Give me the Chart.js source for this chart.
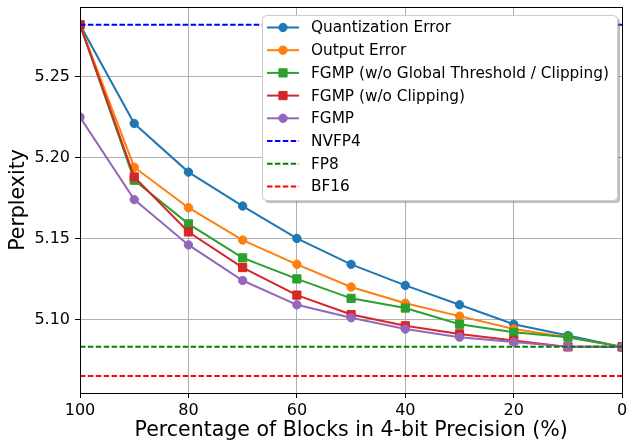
<!DOCTYPE html>
<html>
<head>
<meta charset="utf-8">
<script src="https://cdn.jsdelivr.net/npm/chart.js@4/dist/chart.umd.min.js"></script>
<style>
  html, body { margin: 0; padding: 0; background: #fff; }
  #chart { display: block; }
</style>
</head>
<body>
<canvas id="chart" width="629" height="444"></canvas>
<script>
// percentage of blocks kept in 4-bit precision
const xValues = [100, 90, 80, 70, 60, 50, 40, 30, 20, 10, 0];

const quantError   = [5.282, 5.221, 5.191, 5.170, 5.150, 5.134, 5.121, 5.109, 5.097, 5.090, 5.083];
const outputError  = [5.282, 5.194, 5.169, 5.149, 5.134, 5.120, 5.110, 5.102, 5.094, 5.089, 5.083];
const fgmpNoGlobal = [5.282, 5.186, 5.159, 5.138, 5.125, 5.113, 5.107, 5.097, 5.092, 5.089, 5.083];
const fgmpNoClip   = [5.282, 5.188, 5.154, 5.132, 5.115, 5.103, 5.096, 5.091, 5.087, 5.083, 5.083];
const fgmpFull     = [5.225, 5.174, 5.146, 5.124, 5.109, 5.101, 5.094, 5.089, 5.086, 5.083, 5.083];

const nvfp4 = 5.282;
const fp8 = 5.083;
const bf16 = 5.065;

const xTicks = [0, 20, 40, 60, 80, 100];
const yTicks = [5.10, 5.15, 5.20, 5.25];

const FONT = "'DejaVu Sans', sans-serif";

function series(label, ys, color, style) {
  return {
    label: label,
    data: xValues.map((x, i) => ({ x: x, y: ys[i] })),
    borderColor: color,
    backgroundColor: color,
    pointBackgroundColor: color,
    pointBorderColor: color,
    borderWidth: 2,
    pointStyle: style,
    pointRadius: style === 'rect' ? 5.8 : 4.2,
    pointBorderWidth: 1,
    tension: 0,
    _legendStyle: style
  };
}

function hline(label, y, color) {
  return {
    label: label,
    data: [{ x: 100, y: y }, { x: 0, y: y }],
    borderColor: color,
    backgroundColor: color,
    borderWidth: 2,
    borderDash: [5.5, 2.4],
    pointRadius: 0,
    _legendStyle: 'dash'
  };
}

const datasets = [
  series('Quantization Error', quantError, '#1f77b4', 'circle'),
  series('Output Error', outputError, '#ff7f0e', 'circle'),
  series('FGMP (w/o Global Threshold / Clipping)', fgmpNoGlobal, '#2ca02c', 'rect'),
  series('FGMP (w/o Clipping)', fgmpNoClip, '#d62728', 'rect'),
  series('FGMP', fgmpFull, '#9467bd', 'circle'),
  hline('NVFP4', nvfp4, '#0000ff'),
  hline('FP8', fp8, '#008000'),
  hline('BF16', bf16, '#ff0000')
];
// later series on top, like matplotlib
datasets.forEach((d, i) => { d.order = datasets.length - i; });

// frame around plot area (spines) + x tick labels (so "0" may run off the edge)
const framePlugin = {
  id: 'frame',
  afterDatasetsDraw(chart) {
    const a = chart.chartArea, ctx = chart.ctx;
    ctx.save();
    ctx.strokeStyle = '#000';
    ctx.lineWidth = 1;
    ctx.strokeRect(Math.round(a.left) + 0.5, Math.round(a.top) + 0.5,
                   Math.round(a.right - a.left), Math.round(a.bottom - a.top));
    const xs = chart.scales.x;
    ctx.fillStyle = '#000';
    ctx.font = '16px ' + FONT;
    ctx.textAlign = 'center';
    ctx.textBaseline = 'middle';
    xTicks.forEach(v => {
      ctx.fillText(String(v), xs.getPixelForValue(v), a.bottom + 18);
    });
    ctx.restore();
  }
};

// legend inside the axes, upper right, with shadow
const legendPlugin = {
  id: 'boxLegend',
  afterDraw(chart) {
    const ctx = chart.ctx;
    const bx = 262, by = 15, bw = 355, bh = 185;
    ctx.save();
    ctx.fillStyle = 'rgba(128,128,128,0.5)';
    roundRect(ctx, bx + 3, by + 3, bw, bh, 4); ctx.fill();
    ctx.fillStyle = '#fff';
    ctx.strokeStyle = '#cccccc';
    ctx.lineWidth = 1;
    roundRect(ctx, bx + 0.5, by + 0.5, bw, bh, 4); ctx.fill(); ctx.stroke();

    ctx.font = '15.3px ' + FONT;
    ctx.textBaseline = 'middle';
    chart.data.datasets.forEach((d, i) => {
      const cy = 27.5 + i * 22.7;
      ctx.strokeStyle = d.borderColor;
      ctx.lineWidth = 2;
      ctx.beginPath();
      if (d._legendStyle === 'dash') ctx.setLineDash(d.borderDash);
      else ctx.setLineDash([]);
      ctx.moveTo(267, cy); ctx.lineTo(299, cy);
      ctx.stroke();
      ctx.setLineDash([]);
      if (d._legendStyle !== 'dash') {
        ctx.fillStyle = d.borderColor;
        ctx.strokeStyle = d.borderColor;
        ctx.lineWidth = 1;
        ctx.beginPath();
        if (d.pointStyle === 'rect') {
          const s = d.pointRadius * Math.SQRT1_2;
          ctx.rect(283 - s, cy - s, 2 * s, 2 * s);
        } else {
          ctx.arc(283, cy, d.pointRadius, 0, Math.PI * 2);
        }
        ctx.fill(); ctx.stroke();
      }
      ctx.fillStyle = '#000';
      ctx.fillText(d.label, 311, cy + 1);
    });
    ctx.restore();
  }
};

function roundRect(ctx, x, y, w, h, r) {
  ctx.beginPath();
  ctx.moveTo(x + r, y);
  ctx.lineTo(x + w - r, y); ctx.arcTo(x + w, y, x + w, y + r, r);
  ctx.lineTo(x + w, y + h - r); ctx.arcTo(x + w, y + h, x + w - r, y + h, r);
  ctx.lineTo(x + r, y + h); ctx.arcTo(x, y + h, x, y + h - r, r);
  ctx.lineTo(x, y + r); ctx.arcTo(x, y, x + r, y, r);
  ctx.closePath();
}

const ctx = document.getElementById('chart').getContext('2d');
new Chart(ctx, {
  type: 'line',
  data: { datasets: datasets },
  plugins: [framePlugin, legendPlugin],
  options: {
    responsive: false,
    animation: false,
    devicePixelRatio: 1,
    layout: { padding: { top: 7, right: 2, left: 0, bottom: 0 } },
    plugins: { legend: { display: false }, tooltip: { enabled: false } },
    scales: {
      x: {
        type: 'linear',
        reverse: true,
        min: 0,
        max: 100,
        afterBuildTicks: (s) => { s.ticks = xTicks.map(v => ({ value: v })); },
        afterFit: (s) => { s.height = 51; s.paddingLeft = 0; s.paddingRight = 0; },
        border: { display: false },
        grid: { color: '#b0b0b0', lineWidth: 1, tickColor: '#000', tickLength: 5 },
        ticks: { display: false },
        title: { display: true, text: 'Percentage of Blocks in 4-bit Precision (%)',
                 color: '#000', font: { family: FONT, size: 20.5 }, padding: { top: 0, bottom: 1 } }
      },
      y: {
        type: 'linear',
        min: 5.0545,
        max: 5.293,
        afterBuildTicks: (s) => { s.ticks = yTicks.map(v => ({ value: v })); },
        afterFit: (s) => { s.width = 80; s.paddingTop = 0; s.paddingBottom = 0; },
        border: { display: false },
        grid: { color: '#b0b0b0', lineWidth: 1, tickColor: '#000', tickLength: 5 },
        ticks: { color: '#000', font: { family: FONT, size: 16 }, padding: 5,
                 callback: (v) => v.toFixed(2) },
        title: { display: true, text: 'Perplexity', color: '#000',
                 font: { family: FONT, size: 20.5 }, padding: { top: 6, bottom: 0 } }
      }
    }
  }
});
</script>
</body>
</html>
